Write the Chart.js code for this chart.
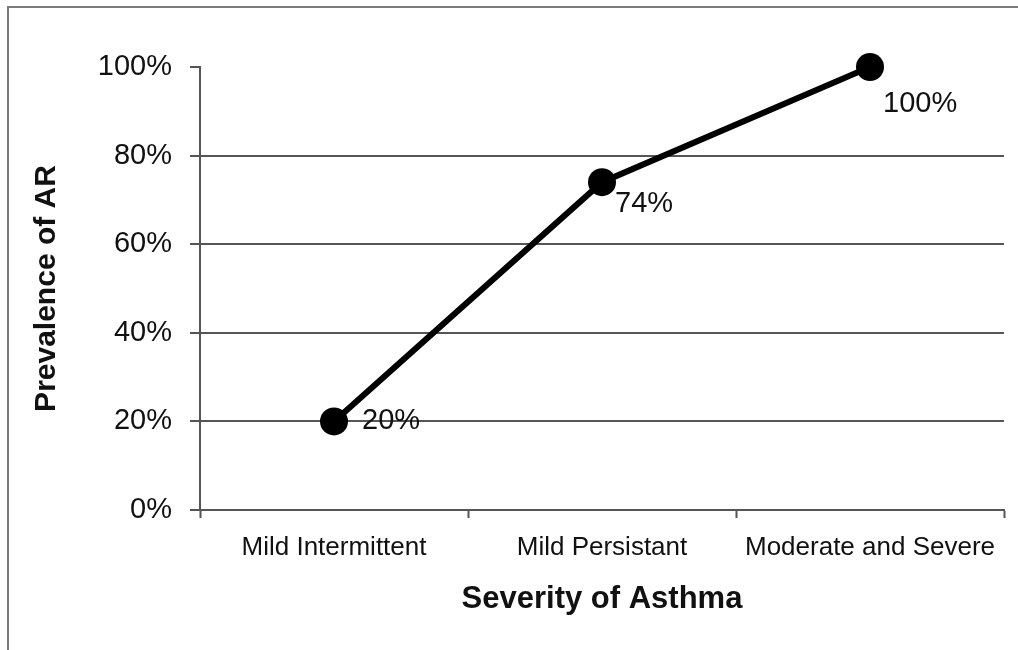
<!DOCTYPE html>
<html>
<head>
<meta charset="utf-8">
<script src="https://cdn.jsdelivr.net/npm/chart.js@4"></script>
<style>
  html, body { margin: 0; padding: 0; background: #fff; overflow: hidden; }
  #wrap { position: relative; width: 1018px; height: 650px; }
  #frame { position: absolute; left: 7px; top: 6px; width: 1100px; height: 700px; border: 2px solid #7a7a7a; }
  canvas { position: absolute; left: 0; top: 0; }
</style>
</head>
<body>
<div id="wrap">
  <div id="frame"></div>
  <canvas id="chart" width="1018" height="650"></canvas>
</div>
<script>
const severity = ['Mild Intermittent', 'Mild Persistant', 'Moderate and Severe'];
const prevalence = [20, 74, 100];
const yTicks = [0, 20, 40, 60, 80, 100];

const FONT = "'Liberation Sans', Arial, sans-serif";
const INK = '#111';
const GRID = '#555';

// value labels sit a bit right / below each marker like the original
const pointLabels = {
    id: 'pointLabels',
    afterDatasetsDraw(chart, args, opts) {
        const {ctx} = chart;
        const meta = chart.getDatasetMeta(0);
        ctx.save();
        ctx.font = `${opts.size}px ${FONT}`;
        ctx.fillStyle = INK;
        ctx.textAlign = 'left';
        ctx.textBaseline = 'middle';
        meta.data.forEach((pt, i) => {
            const off = opts.offsets[i];
            ctx.fillText(prevalence[i] + '%', pt.x + off[0], pt.y + off[1]);
        });
        ctx.restore();
    }
};

const config = {
    type: 'line',
    data: {
        labels: severity,
        datasets: [{
            data: prevalence,
            borderColor: '#000',
            borderWidth: 6,
            pointRadius: 14,
            pointBorderWidth: 0,
            pointBackgroundColor: '#000',
            tension: 0,
            fill: false,
            clip: false,
        }]
    },
    options: {
        responsive: false,
        animation: false,
        events: [],
        layout: {
            padding: { left: 25, right: 13, top: 67, bottom: 28 }
        },
        scales: {
            x: {
                offset: true,
                grid: {
                    offset: true,
                    drawOnChartArea: false,
                    tickLength: 8,
                    tickColor: GRID,
                    tickWidth: 2,
                },
                border: { display: true, color: GRID, width: 2 },
                ticks: {
                    color: INK,
                    padding: 14,
                    maxRotation: 0,
                    font: { family: FONT, size: 26 },
                },
                title: {
                    display: true,
                    text: 'Severity of Asthma',
                    color: INK,
                    font: { family: FONT, size: 31, weight: 'bold' },
                    padding: { top: 4, bottom: 4 },
                },
                afterFit: (s) => { s.height = 112; },
            },
            y: {
                min: 0,
                max: 100,
                afterBuildTicks: (s) => { s.ticks = yTicks.map(v => ({value: v})); },
                grid: {
                    color: (c) => (c.tick && c.tick.value === 100) ? 'rgba(0,0,0,0)' : GRID,
                    lineWidth: 2,
                    tickLength: 10,
                    tickColor: GRID,
                    tickWidth: 2,
                },
                border: { display: true, color: GRID, width: 2 },
                ticks: {
                    color: INK,
                    padding: 18,
                    font: { family: FONT, size: 29 },
                    callback: (v) => v + '%',
                },
                title: {
                    display: true,
                    text: 'Prevalence of AR',
                    color: INK,
                    font: { family: FONT, size: 30, weight: 'bold' },
                    padding: { top: 4, bottom: 4 },
                },
                afterFit: (s) => { s.width = 175; },
            }
        },
        plugins: {
            legend: { display: false },
            tooltip: { enabled: false },
            pointLabels: {
                size: 29,
                offsets: [[28, 0], [13, 22], [13, 37]],
            },
        },
    },
    plugins: [pointLabels],
};

new Chart(document.getElementById('chart'), config);
</script>
</body>
</html>
